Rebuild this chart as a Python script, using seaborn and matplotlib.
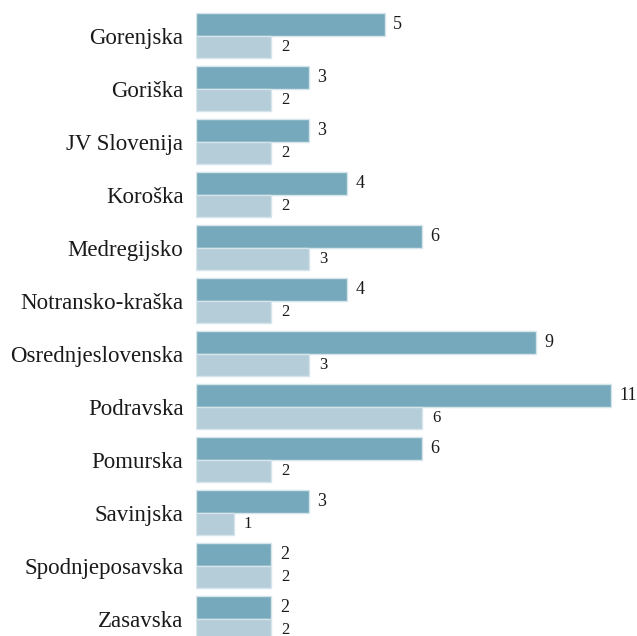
import pandas as pd
import matplotlib.pyplot as plt
import seaborn as sns

# Podaci po regijama
regije = ['Gorenjska', 'Goriška', 'JV Slovenija', 'Koroška', 'Medregijsko',
          'Notransko-kraška', 'Osrednjeslovenska', 'Podravska', 'Pomurska',
          'Savinjska', 'Spodnjeposavska', 'Zasavska']
vrednosti_1 = [5, 3, 3, 4, 6, 4, 9, 11, 6, 3, 2, 2]
vrednosti_2 = [2, 2, 2, 2, 3, 2, 3, 6, 2, 1, 2, 2]
serije = ['serija 1', 'serija 2']
boje = ['#76a9bb', '#b5cdd9']

df = pd.DataFrame({
    'regija': regije * 2,
    'vrednost': vrednosti_1 + vrednosti_2,
    'serija': [serije[0]] * len(regije) + [serije[1]] * len(regije),
})

sns.set_style('white')
plt.rcParams['font.family'] = ['Liberation Serif', 'DejaVu Serif']

fig = plt.figure(figsize=(6.37, 6.36), dpi=100)
ax = fig.add_axes([196 / 637, 0, 1 - 196 / 637, 1])

sns.barplot(data=df, y='regija', x='vrednost', hue='serija', palette=boje,
            saturation=1, orient='h', width=0.85, edgecolor='#d6e5ec',
            linewidth=1, legend=False, ax=ax)

# Oznake vrednosti desno od stubića
ax.bar_label(ax.containers[0], padding=6, fontsize=13, color='#1a1a1a')
ax.bar_label(ax.containers[1], padding=7, fontsize=12, color='#1a1a1a')

ax.set_xlim(0, 11 * 637 / (611 - 196) * (1 - 196 / 637))
ax.set_ylim(11.33, -0.67)
ax.set_xlabel('')
ax.set_ylabel('')
ax.set_xticks([])
ax.tick_params(axis='y', length=0, pad=9, labelsize=16.5, labelcolor='#1a1a1a')
sns.despine(ax=ax, left=True, bottom=True)

fig.savefig('out.png', dpi=100)
